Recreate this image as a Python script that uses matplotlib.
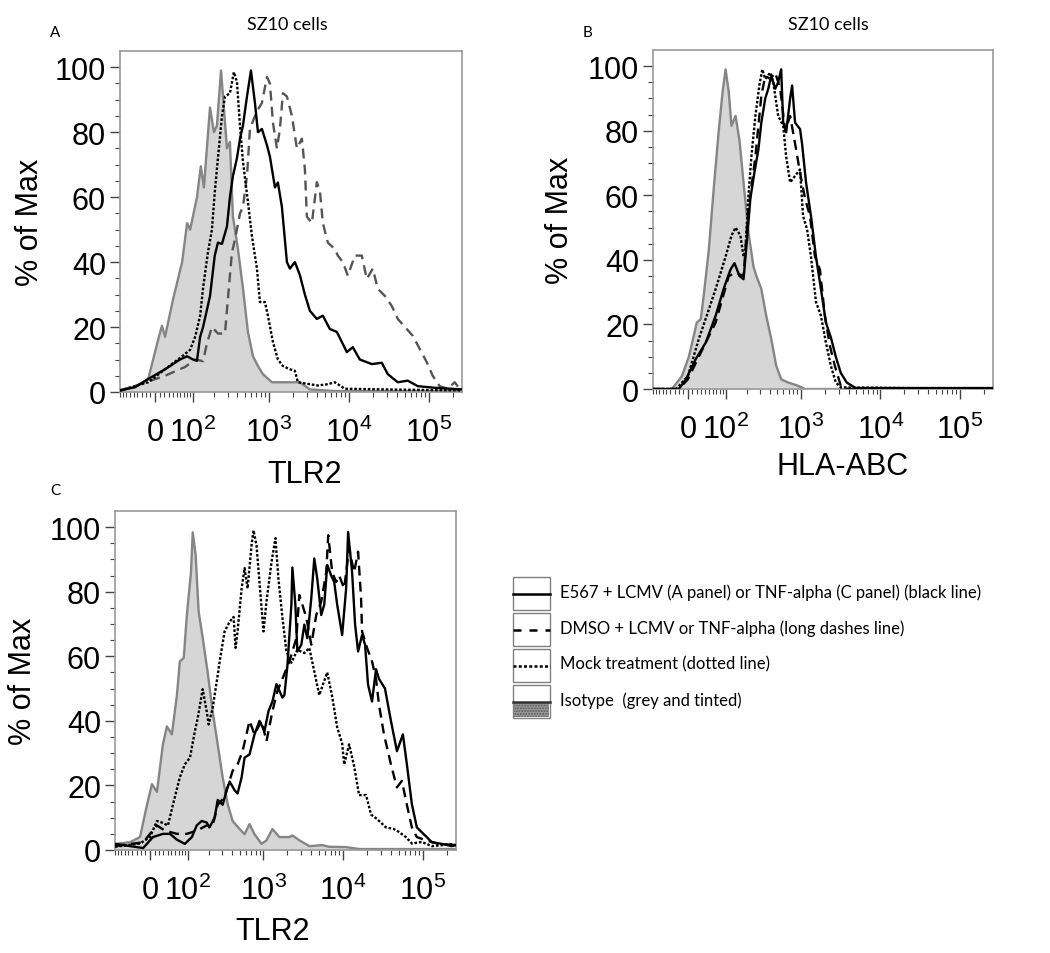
import numpy as np
import matplotlib.pyplot as plt
from matplotlib.patches import Rectangle

plt.rcParams['font.family'] = ['Liberation Sans', 'DejaVu Sans']
plt.rcParams['mathtext.fontset'] = 'custom'
plt.rcParams['mathtext.rm'] = 'Liberation Sans'

# ---- data (fluorescence value, % of max) ----
# Panel A, TLR2
a_iso_x = [-90, -46, -15, 6.5, 15, 22, 41, 65, 80, 90, 115, 131, 145, 176, 199, 218, 247, 270,
           295, 322, 352, 408, 472, 546, 632, 730, 843, 1094, 2451, 3269, 6713, 262000]
a_iso_y = [0.5, 1.5, 4, 16, 20.4, 17, 28.6, 40, 52, 50, 60, 69.5, 63, 87.6, 80, 82, 99, 87,
           75, 77, 54, 44, 32, 18.5, 11, 8, 5.5, 3, 3, 0.8, 0.3, 0.3]
a_e567_x = [-90, -46, -15, 22, 41, 59, 80, 100, 115, 128, 141, 176, 204, 225, 254, 295, 322, 352,
            396, 433, 472, 531, 596, 669, 730, 819, 947, 1032, 1193, 1300, 1459, 1686, 1838, 2123,
            2451, 2831, 3269, 3999, 4753, 5815, 7112, 9483, 11268, 13786, 19474, 25970, 30880,
            41160, 54890, 73210, 119400, 262000]
a_e567_y = [0.5, 1.5, 4, 7, 8.6, 10, 11, 10, 9.6, 17, 20, 29.5, 42, 46, 45.6, 51, 60, 66.5,
            72, 78, 82, 91, 99, 89, 80, 81, 76, 72.5, 63, 64.5, 57, 40, 38, 40,
            36, 30, 25, 22.5, 23.5, 19.4, 18.5, 12.3, 13.8, 10, 8.6, 9, 5.5,
            3, 3.5, 1.8, 1.3, 0.8]
a_mock_x = [-90, -15, 22, 65, 90, 108, 128, 141, 165, 187, 204, 225, 254, 278, 322, 362, 396,
            433, 472, 546, 613, 709, 773, 893, 974, 1126, 1300, 1502, 1838, 2123, 2314, 3086,
            4116, 5490, 6713, 8952, 50340, 262000]
a_mock_y = [0.5, 3, 7, 11, 13, 17, 23.5, 32, 43, 50, 61.5, 72, 85, 91, 92, 98.5, 95.5,
            82, 71, 58.5, 48, 38, 27.7, 27.7, 23.5, 15.4, 10, 8, 7, 6.5, 3, 2.5,
            2, 2.4, 3, 1, 0.7, 0.5]
a_dmso_x = [-90, 22, 73.5, 108, 141, 160, 187, 225, 278, 304, 342, 374, 433, 472, 531, 579, 669,
            730, 819, 947, 1032, 1126, 1263, 1378, 1502, 1686, 1947, 2249, 2596, 2831, 2998,
            3463, 3999, 4360, 4753, 5490, 6713, 7320, 8452, 9760, 11937, 14602, 16863, 20043,
            23146, 28310, 34628, 41160, 53330, 63380, 77520, 94830, 112700, 137900, 173500,
            212300, 245100, 262000]
a_dmso_y = [0.3, 5, 7.7, 10, 9.5, 15, 20, 18, 18, 29, 43, 47, 55, 57, 66.5, 81, 85,
            87, 89, 97, 95, 83, 75, 81, 92, 91, 85, 75, 78, 68.6, 54,
            52, 64.6, 62, 52, 46, 44, 42, 40, 35.8, 42, 42, 34.8, 38,
            31.8, 29.6, 26.5, 22.5, 19.4, 17.3, 13.3, 9.2, 5, 1.8, 1,
            3, 1, 0.8]

# Panel B, HLA-ABC
b_iso_x = [-90, -36, -13, 2.2, 13, 19.7, 28.9, 36, 48.6, 62, 76.5, 89.5, 100, 112, 123, 141,
           160, 182, 212, 247, 270, 313, 362, 420, 486, 562, 689, 920, 1126, 262000]
b_iso_y = [0, 0, 4, 10, 16.5, 20.6, 21.6, 29, 43, 62, 79.5, 92, 99, 92, 81.5, 84.6,
           77, 64, 48.5, 38, 35, 31, 22.7, 15.5, 7.2, 3, 2, 1, 0, 0]
b_e567_x = [-90, -20, -4.3, 17.5, 41, 67.6, 93, 119, 136, 160, 182, 199, 225, 254, 286, 313,
            352, 385, 420, 472, 515, 562, 596, 650, 730, 773, 843, 974, 1032, 1159, 1338,
            1546, 1786, 2063, 2382, 2750, 3176, 3775, 4890, 262000]
b_e567_y = [0, 0, 3, 9.3, 14.4, 22.7, 31, 37, 39, 35, 34, 44, 59, 67, 74, 82.5,
            90, 93, 97, 93, 95, 99, 82.5, 79.5, 90, 94, 82.5, 80.5, 76, 64, 53.6,
            41, 31, 20.6, 16, 10, 5, 2, 0.3, 0.3]
b_mock_x = [-90, -26, 0, 24.3, 43.4, 67.6, 100, 123, 141, 165, 182, 193, 212, 232, 262, 295,
            322, 352, 408, 445, 515, 596, 650, 730, 843, 974, 1063, 1193, 1338, 1546, 1786,
            2063, 2382, 2750, 3176, 262000]
b_mock_y = [0, 0, 4, 15.5, 22.7, 31, 41, 47.5, 50, 47.5, 41, 43, 60, 72, 84.6, 94,
            99, 96, 98, 95, 84.6, 81.5, 72, 64, 66, 68, 53.6, 49.5, 41, 27, 22.7,
            14.4, 7.2, 2, 0.5, 0]
b_dmso_x = [-90, -20, 0, 24.3, 67.6, 112, 141, 182, 212, 262, 313, 352, 408, 472, 546, 632,
            730, 843, 974, 1126, 1300, 1502, 1735, 2004, 2314, 2672, 3176, 3885, 262000]
b_dmso_y = [0, 0, 3, 10, 20.6, 35, 36, 35, 55.6, 72, 90.8, 97, 96, 98, 93, 80,
            84.6, 76, 67, 59, 53.6, 41, 37, 22.7, 13.4, 7.2, 1, 0, 0]

# Panel C, TLR2
c_iso_x = [-90, -46, -22, -6.5, 4.3, 15.3, 28.9, 38.5, 51, 65, 73.5, 86, 96.7, 112, 119, 131,
           145, 165, 193, 225, 262, 304, 352, 408, 501, 579, 669, 773, 947, 1094, 1300, 1591,
           2123, 2314, 2831, 3775, 5490, 6713, 10950, 15920, 262000]
c_iso_y = [1.9, 2.4, 4, 14, 20.4, 18, 32.7, 38.3, 35.8, 48, 58.4, 59.5, 72.8, 86, 98.4, 91.5,
           73.8, 65.7, 55, 42.9, 32.7, 22.5, 14.3, 9, 6.5, 4.9, 8, 4.9, 1.9, 3, 6.5, 4,
           4, 4.5, 3, 1.2, 1.5, 1, 0.9, 0.3, 0.3]
c_e567_x = [-90, -46, -15, 6.5, 28.9, 46, 65, 89.5, 115.5, 136, 160, 187, 204, 239, 262, 304,
            342, 374, 433, 472, 531, 579, 669, 773, 893, 1032, 1159, 1300, 1459, 1591, 1735,
            1838, 2004, 2249, 2314, 2523, 2672, 2998, 3269, 3564, 3999, 4360, 4753, 5334, 5815,
            6340, 7112, 7753, 8452, 9760, 10950, 11598, 13012, 14188, 15467, 17355, 18921,
            20628, 23146, 25970, 28310, 33645, 39990, 47530, 56490, 63380, 73210, 84540,
            97460, 112700, 130100, 173500, 231400, 262000]
c_e567_y = [1.9, 1.2, 0.6, 4, 5, 5, 3.2, 1.9, 4, 7.6, 9, 8.5, 7, 10, 15.5, 14,
            18.5, 21.2, 18.5, 17.5, 22.5, 28.6, 29.6, 35.8, 40, 36.8, 43, 46, 51.4, 49.3, 47.2,
            48, 57, 76, 87.5, 76, 61.5, 63.6, 69.8, 65.6, 78, 90.3, 84, 72.8, 76,
            88.3, 85, 83, 76, 66.6, 81, 98.5, 86, 69.8, 61.5, 66.6, 63.6,
            51.2, 46, 56, 53, 50, 40, 30.6, 35.8, 26.5, 14.2, 7,
            5.5, 4, 2.4, 1.9, 1.2, 1.5]
c_mock_x = [-90, -22, 0, 15.3, 26.6, 41, 53.8, 73.5, 89.5, 108, 128, 141, 165, 187, 199, 225,
            254, 278, 322, 374, 420, 445, 472, 531, 579, 632, 709, 751, 819, 920, 1003, 1094,
            1263, 1418, 1546, 1735, 1947, 2249, 2672, 3269, 3775, 5035, 6340, 7320, 8452, 9760,
            10338, 11937, 13786, 15920, 19474, 22489, 26730, 34628, 43590, 50340, 61640,
            73210, 97460, 130100, 231400, 262000]
c_mock_y = [1, 2, 4, 9, 8.5, 7.6, 14, 22.5, 26.5, 28.6, 36.8, 41, 49.8, 43, 38.9, 44,
            52, 58.4, 67.7, 70.7, 72.2, 62.6, 67.7, 81, 87.3, 81, 94.4, 99, 94.4, 79, 67.7, 77,
            89, 96.6, 84, 72, 61.5, 58, 62, 61, 62.6, 48, 55, 47.5, 38, 33,
            26.5, 32.7, 26, 17, 17, 11, 9.6, 7, 6.5, 5.6, 4,
            2, 2.5, 1.2, 1.8, 1.5]
c_dmso_x = [-90, -15, 15.3, 33.6, 65, 96.7, 136, 187, 225, 262, 322, 408, 472, 546, 669, 773,
            947, 1094, 1300, 1502, 1735, 2123, 2596, 2831, 3086, 3463, 3999, 4618, 5334, 6160,
            6525, 7320, 8212, 8952, 10338, 11937, 13786, 15467, 16863, 17355, 20043, 23146,
            25970, 28310, 32690, 39990, 47530, 54890, 63380, 73210, 84540, 109500, 159200,
            262000]
c_dmso_y = [1.2, 2.4, 7.6, 6, 5, 5, 6, 7.6, 7.6, 14, 16.4, 24.5, 26.5, 30.6, 40, 35.8,
            40, 33.7, 43, 49.3, 53, 58.4, 65.6, 79, 76, 72, 63.6, 72.8, 77, 86,
            97.5, 86, 83, 85, 81, 93.4, 86, 92.4, 78, 67.7, 62.6, 58.4,
            53, 45, 35.8, 26.5, 19.4, 21.4, 14, 7, 4, 3, 1.9,
            1.5]

x_major = [0, 1e2, 1e3, 1e4, 1e5]
x_major_labels = ['0', r'$\mathregular{10^{2}}$', r'$\mathregular{10^{3}}$',
                  r'$\mathregular{10^{4}}$', r'$\mathregular{10^{5}}$']
x_minor = ([-v for v in range(10, 100, 10)] + list(range(10, 100, 10))
           + [m * 10 ** k for k in (2, 3, 4) for m in range(2, 10)] + [2e5])

legend_labels = ['E567 + LCMV (A panel) or TNF-alpha (C panel) (black line)',
                 'DMSO + LCMV or TNF-alpha (long dashes line)',
                 'Mock treatment (dotted line)',
                 'Isotype  (grey and tinted)']

# logicle-like display: arcsinh with linear region around zero
W = 75.5


def fwd(x):
    return np.arcsinh(np.asarray(x, dtype=float) / W)


def inv(y):
    return W * np.sinh(np.asarray(y, dtype=float))


ISO_LINE = '#858585'
ISO_FILL = '#d6d6d6'
LW = 1.7
DASH = (0, (4.2, 2.6))
DOT = (0, (1.1, 0.8))


def draw_panel(ax, iso, e567, mock, dmso, dmso_color):
    ax.set_xscale('function', functions=(fwd, inv))
    ax.fill_between(iso[0], iso[1], 0, color=ISO_FILL, lw=0, zorder=1)
    ax.plot(iso[0], iso[1], color=ISO_LINE, lw=LW, zorder=2)
    ax.plot(dmso[0], dmso[1], color=dmso_color, lw=LW, ls=DASH, zorder=3)
    ax.plot(mock[0], mock[1], color='black', lw=LW, ls=DOT, zorder=4)
    ax.plot(e567[0], e567[1], color='black', lw=LW, zorder=5)
    ax.set_xlim(-90, 262144)
    ax.set_ylim(0, 105)
    ax.set_xticks(x_major, x_major_labels)
    ax.set_xticks(x_minor, minor=True)
    ax.set_yticks(range(0, 101, 20))
    ax.set_yticks(range(0, 101, 5), minor=True)
    ax.tick_params(which='major', length=7, width=1, color='#444444', labelsize=22)
    ax.tick_params(which='minor', length=3.5, width=0.8, color='#444444')
    ax.tick_params(axis='x', which='major', pad=11)
    ax.tick_params(axis='y', which='major', pad=3)
    for sp in ax.spines.values():
        sp.set_color('#9a9a9a')
        sp.set_linewidth(1.2)
    ax.set_ylabel('% of Max', fontsize=22)


fig = plt.figure(figsize=(10.5, 9.54), dpi=100)
W_PX, H_PX = 1050, 954


def px_axes(left, top, right, bottom):
    return fig.add_axes([left / W_PX, 1 - bottom / H_PX, (right - left) / W_PX,
                         (bottom - top) / H_PX])


ax_a = px_axes(120, 52, 462, 393)
draw_panel(ax_a, (a_iso_x, a_iso_y), (a_e567_x, a_e567_y), (a_mock_x, a_mock_y),
           (a_dmso_x, a_dmso_y), '#555555')
ax_a.set_xlabel('TLR2', fontsize=22)
ax_a.xaxis.set_label_coords(0.541, -0.196)
ax_a.yaxis.set_label_coords(-0.22, 0.5)

ax_b = px_axes(653, 51, 993, 390)
draw_panel(ax_b, (b_iso_x, b_iso_y), (b_e567_x, b_e567_y), (b_mock_x, b_mock_y),
           (b_dmso_x, b_dmso_y), 'black')
ax_b.set_xlabel('HLA-ABC', fontsize=22)
ax_b.xaxis.set_label_coords(0.559, -0.183)
ax_b.yaxis.set_label_coords(-0.229, 0.5)

ax_c = px_axes(115, 512, 456, 851)
draw_panel(ax_c, (c_iso_x, c_iso_y), (c_e567_x, c_e567_y), (c_mock_x, c_mock_y),
           (c_dmso_x, c_dmso_y), 'black')
ax_c.set_xlabel('TLR2', fontsize=22)
ax_c.xaxis.set_label_coords(0.463, -0.195)
ax_c.yaxis.set_label_coords(-0.226, 0.5)

# titles and panel letters
fig.text(287 / W_PX, 1 - 25 / H_PX, 'SZ10 cells', family='Lato', fontsize=13,
         ha='center', va='center')
fig.text(828 / W_PX, 1 - 25 / H_PX, 'SZ10 cells', family='Lato', fontsize=13,
         ha='center', va='center')
fig.text(55 / W_PX, 1 - 33 / H_PX, 'A', family='Lato', fontsize=11, ha='center', va='center')
fig.text(588 / W_PX, 1 - 33 / H_PX, 'B', family='Lato', fontsize=11, ha='center', va='center')
fig.text(55 / W_PX, 1 - 491 / H_PX, 'C', family='Lato', fontsize=11, ha='center', va='center')

# legend drawn as boxed swatches
ax_leg = px_axes(505, 570, 1050, 730)
ax_leg.set_xlim(505, 1050)
ax_leg.set_ylim(730, 570)
ax_leg.axis('off')
swatch_styles = [('black', '-'), ('black', (0, (3.2, 3.2))), ('black', (0, (1.2, 0.9))),
                 ('#333333', '-')]
for i, (label, (col, ls)) in enumerate(zip(legend_labels, swatch_styles)):
    top = 578 + 36 * i
    ax_leg.add_patch(Rectangle((513, top), 37, 33, fc='white', ec='#808080', lw=1))
    mid = top + 16.5
    if i == 3:
        ax_leg.add_patch(Rectangle((514, mid), 35, 15.5, fc='#9a9a9a', ec='#5a5a5a',
                                   hatch='......', lw=0))
    ax_leg.plot([513, 550], [mid, mid], color=col, ls=ls, lw=1.8)
    ax_leg.text(560, mid - 2, label, family='Lato', fontsize=12, va='center', ha='left')

fig.savefig('out.png', dpi=100)
